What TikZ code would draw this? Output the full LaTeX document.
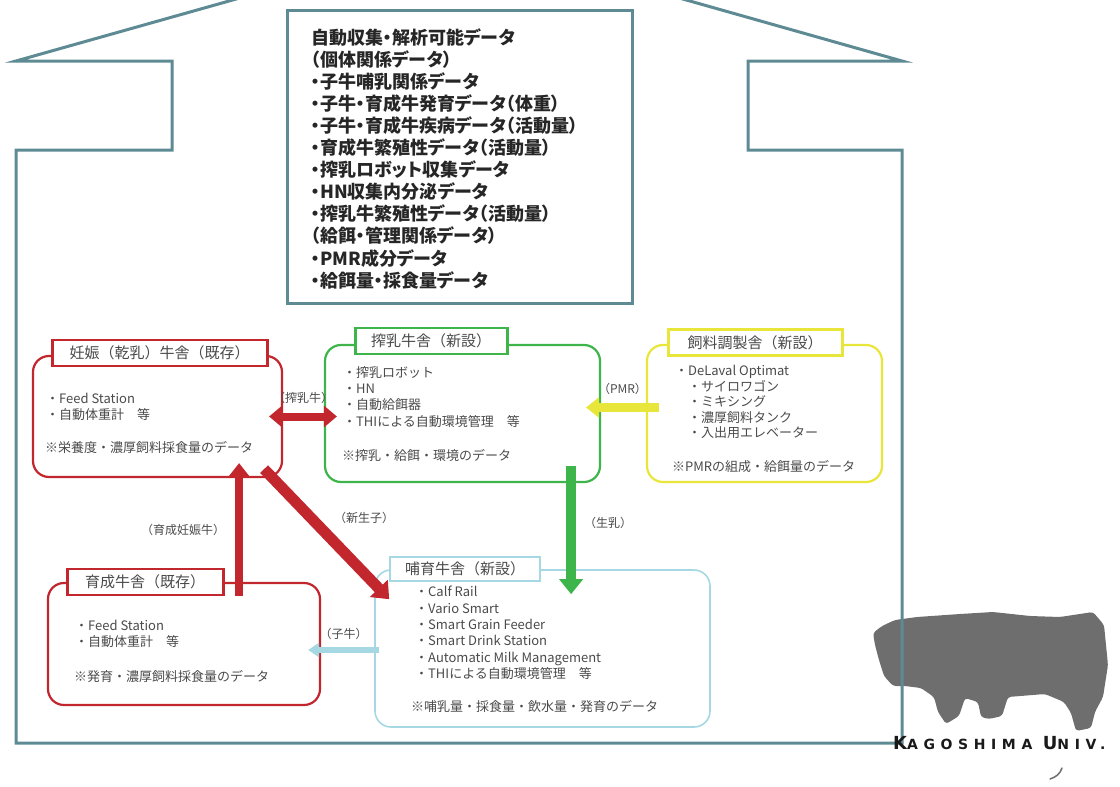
\documentclass[tikz,border=0pt]{standalone}
\usepackage{fontspec}
\setmainfont{Noto Sans CJK JP}
\newfontfamily\datafont[RawFeature=+palt]{Noto Sans CJK JP}
\newfontfamily\logofont[LetterSpace=40]{DejaVu Sans}
\usetikzlibrary{arrows.meta, positioning}

\definecolor{wall}{HTML}{5E8A93}
\definecolor{barnred}{HTML}{C3272E}
\definecolor{barngreen}{HTML}{3DB54A}
\definecolor{barnyellow}{HTML}{E9E63B}
\definecolor{barnblue}{HTML}{A6D8E3}
\definecolor{ink}{HTML}{4A4A4A}
\definecolor{cowgray}{HTML}{6E6E6E}

\begin{document}
\begin{tikzpicture}[
  x=1pt, y=-1pt,
  barn/.style      = {draw, rounded corners=16pt, line width=2.2pt},
  tab/.style       = {draw, fill=white, line width=2.6pt, minimum height=26pt,
                      inner xsep=6pt, text=ink, font=\fontsize{15}{15}\selectfont},
  list/.style      = {align=left, anchor=north west, inner sep=0pt, text=ink,
                      font=\fontsize{13}{16.4}\selectfont},
  note/.style      = {anchor=west, inner sep=0pt, text=ink, font=\fontsize{13}{13}\selectfont},
  flowlabel/.style = {text=ink, inner sep=1pt, font=\fontsize{12}{12}\selectfont},
  flow/.style      = {line width=#1},
]
  \useasboundingbox (0,0) rectangle (1120,787);
  \clip (0,0) rectangle (1120,787);

  % university mark (the wall line runs over the cow)
  \fill[cowgray, rounded corners=3pt]
    (875,645) -- (873,633) -- (882,626) -- (895,620) -- (917,617) -- (960,614)
    -- (993,612) -- (1030,616) -- (1060,617) -- (1093,612) -- (1104,625)
    -- (1108,665) -- (1103,697) -- (1095,712) -- (1091,728) -- (1076,731)
    -- (1071,713) -- (1064,702) -- (1045,694) -- (1008,697) -- (1002,716)
    -- (989,719) -- (981,717) -- (978,702) -- (965,698) -- (959,716)
    -- (946,724) -- (938,712) -- (934,697) -- (921,688) -- (905,686)
    -- (893,686) -- (884,676) -- (879,660) -- cycle;

  % house outline with the two eaves
  \draw[wall, line width=3pt, line join=miter]
    (460,-64) -- (16,61) -- (172,61) -- (172,150) -- (16,150) -- (16,743)
    -- (902,743) -- (902,150) -- (748,150) -- (748,61) -- (902,61) -- cycle;

  \node[anchor=base west, inner sep=0pt, text=black!90] (univ) at (893,749)
    {\logofont\bfseries\fontsize{18}{18}\selectfont K\fontsize{14}{14}\selectfont AGOSHIMA\ %
     \fontsize{18}{18}\selectfont U\fontsize{14}{14}\selectfont NIV.};
  \draw[cowgray, line width=1.5pt, line cap=round] (1062,768) .. controls (1060,774) and (1056,777) .. (1050,779);

  % data collected in the loft
  \draw[wall, line width=3pt, fill=white] (287,10) rectangle (632,303);
  \node[anchor=north west, inner sep=0pt, align=left, text=black!85,
        font=\datafont\bfseries\fontsize{18}{22.1}\selectfont] (datalist) at (311,28)
    {自動収集・解析可能データ\\
     （個体関係データ）\\
     ・子牛哺乳関係データ\\
     ・子牛・育成牛発育データ（体重）\\
     ・子牛・育成牛疾病データ（活動量）\\
     ・育成牛繁殖性データ（活動量）\\
     ・搾乳ロボット収集データ\\
     ・HN収集内分泌データ\\
     ・搾乳牛繁殖性データ（活動量）\\
     （給餌・管理関係データ）\\
     ・PMR成分データ\\
     ・給餌量・採食量データ};

  % barns
  \node[barn, draw=barnred,    minimum width=249, minimum height=121] (pregnant) at (157.5,416.5) {};
  \node[barn, draw=barngreen,  minimum width=275, minimum height=137] (milking)  at (462.5,413.5) {};
  \node[barn, draw=barnyellow, minimum width=235, minimum height=137] (feedmill) at (764.5,413.5) {};
  \node[barn, draw=barnred,    minimum width=272, minimum height=122] (rearing)  at (184,644) {};
  \node[barn, draw=barnblue, line width=1.6pt, minimum width=335, minimum height=157] (calf) at (542.5,648.5) {};

  \node[tab, draw=barnred,    anchor=west, minimum width=215] (pregnanttab) at ([xshift=19pt,yshift=2pt]pregnant.north west) {妊娠（乾乳）牛舎（既存）};
  \node[tab, draw=barngreen,  anchor=west, minimum width=152] (milkingtab)  at ([xshift=30pt,yshift=3pt]milking.north west)  {搾乳牛舎（新設）};
  \node[tab, draw=barnyellow, anchor=west, minimum width=174] (feedmilltab) at ([xshift=21pt,yshift=1.5pt]feedmill.north west) {飼料調製舎（新設）};
  \node[tab, draw=barnred,    anchor=west, minimum width=156] (rearingtab)  at ([xshift=19pt]rearing.north west)  {育成牛舎（既存）};
  \node[tab, draw=barnblue, line width=2pt, anchor=west, minimum width=150, minimum height=24] (calftab) at ([xshift=15pt]calf.north west) {哺育牛舎（新設）};

  % what each barn holds
  \node[list] (pregnantlist) at (46,393) {・Feed Station\\・自動体重計　等};
  \node[note] (pregnantnote) at (45,447) {※栄養度・濃厚飼料採食量のデータ};

  \node[list] (milkinglist) at (343,366) {・搾乳ロボット\\・HN\\・自動給餌器\\・THIによる自動環境管理　等};
  \node[note] (milkingnote) at (342,455) {※搾乳・給餌・環境のデータ};

  \node[list, font=\fontsize{13}{15.5}\selectfont] (feedmilllist) at (675,365)
    {・DeLaval Optimat\\
     \hspace*{1em}・サイロワゴン\\
     \hspace*{1em}・ミキシング\\
     \hspace*{1em}・濃厚飼料タンク\\
     \hspace*{1em}・入出用エレベーター};
  \node[note] (feedmillnote) at (672,467) {※PMRの組成・給餌量のデータ};

  \node[list] (rearinglist) at (75,620) {・Feed Station\\・自動体重計　等};
  \node[note] (rearingnote) at (74,677) {※発育・濃厚飼料採食量のデータ};

  \node[list] (calflist) at (415,586)
    {・Calf Rail\\
     ・Vario Smart\\
     ・Smart Grain Feeder\\
     ・Smart Drink Station\\
     ・Automatic Milk Management\\
     ・THIによる自動環境管理　等};
  \node[note] (calfnote) at (411,707) {※哺乳量・採食量・飲水量・発育のデータ};

  % animal, milk and feed flows
  \draw[flow=8pt, barnred, {Triangle[length=13pt,width=21pt]}-{Triangle[length=13pt,width=21pt]}]
    ([xshift=-14pt]pregnant.east) -- ([xshift=13pt]milking.west |- pregnant.east)
    node[flowlabel, midway, above=8pt] {（搾乳牛）};

  \coordinate (pmrout) at ([xshift=13pt,yshift=6pt]feedmill.west);
  \draw[flow=9pt, barnyellow, -{Triangle[length=13pt,width=20pt]}]
    (pmrout) -- ([xshift=-15pt]milking.east |- pmrout)
    node[flowlabel, midway, above=7pt] {（PMR）};

  \coordinate (milkout) at ([xshift=-30pt,yshift=17pt]milking.south east);
  \draw[flow=10pt, barngreen, -{Triangle[length=15pt,width=23pt]}]
    (milkout) -- ([yshift=-25pt]calf.north -| milkout)
    node[flowlabel, pos=0.44, right=7pt] {（生乳）};

  \coordinate (heiferout) at ([xshift=-82pt,yshift=-14pt]rearing.north east);
  \draw[flow=8pt, barnred, -{Triangle[length=14pt,width=21pt]}]
    (heiferout) -- ([yshift=15pt]pregnant.south -| heiferout)
    node[flowlabel, midway, left=9pt] {（育成妊娠牛）};

  \draw[flow=11pt, barnred, -{Triangle[length=15pt,width=24pt]}]
    ([xshift=-19pt,yshift=9pt]pregnant.south east) -- ([xshift=15pt,yshift=-30pt]calf.north west)
    node[flowlabel, midway, above right=4pt and 1pt] {（新生子）};

  \coordinate (calfout) at ([xshift=5pt,yshift=-1.5pt]calf.west);
  \draw[flow=6pt, barnblue, -{Triangle[length=11pt,width=14pt]}]
    (calfout) -- ([xshift=-13pt]rearing.east |- calfout)
    node[flowlabel, midway, above=6pt] {（子牛）};
\end{tikzpicture}
\end{document}
